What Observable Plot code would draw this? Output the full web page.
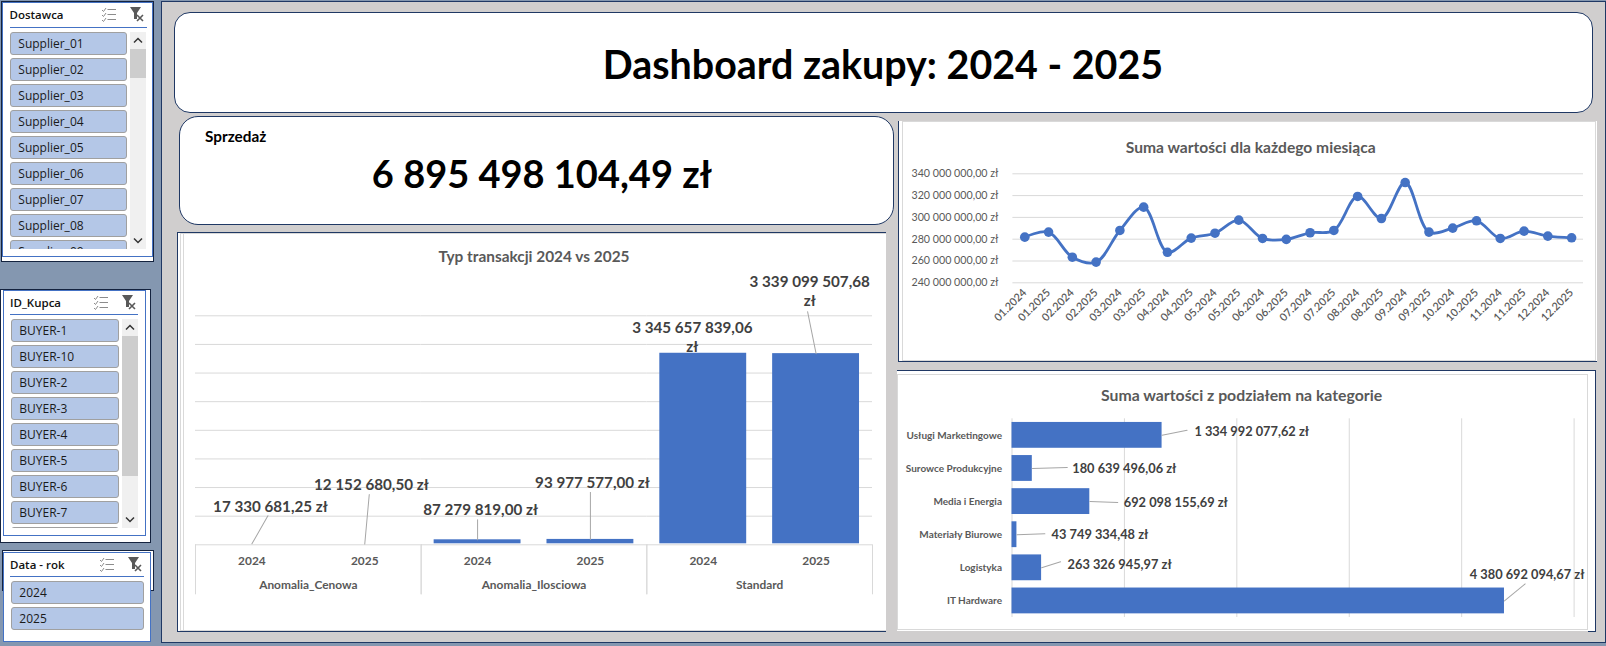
<!DOCTYPE html>
<html lang="pl">
<head>
<meta charset="utf-8">
<title>Dashboard zakupy: 2024 - 2025</title>
<script src="https://cdn.jsdelivr.net/npm/d3@7"></script>
<script src="https://cdn.jsdelivr.net/npm/@observablehq/plot@0.6"></script>
<style>
html,body{margin:0;padding:0;background:#8497B0;overflow:hidden;width:1606px;height:646px;}
#page{position:relative;width:1606px;height:646px;font-family:Lato,sans-serif;overflow:hidden;}
.abs{position:absolute;box-sizing:border-box;}
.panel{background:#D0CECE;border:1px solid #1F3864;}
.round{background:#fff;border:1px solid #1F3864;}
.title{position:absolute;text-align:center;font-weight:700;color:#595959;white-space:nowrap;transform:translate(-50%,-50%);}
.big{position:absolute;text-align:center;font-weight:700;color:#000;white-space:nowrap;transform:translate(-50%,-50%);}
.chart-svg{position:absolute;}
.chart-svg svg{display:block;overflow:visible;background:transparent;}
.slicer{font-family:"Open Sans",sans-serif;color:#111;}
.sl-head{position:absolute;font-weight:600;font-size:11.5px;line-height:16px;white-space:nowrap;color:#111;}
.sl-line{position:absolute;height:1px;background:#4472C4;}
.sl-btn{position:absolute;box-sizing:border-box;height:22.5px;background:#B4C7E7;border:1px solid #A0A0A0;border-radius:3px;font-size:12px;line-height:22px;padding-left:7px;color:#1a1a1a;white-space:nowrap;}
.sl-clip{position:absolute;overflow:hidden;}
.sl-bar{position:absolute;background:#F0F0F0;}
.sl-thumb{position:absolute;left:0;right:0;background:#CDCDCD;}
</style>
</head>
<body>
<div id="page"></div>
<script>
// ---------- data ----------
const dashboardTitle = "Dashboard zakupy: 2024 - 2025";
const kpiLabel = "Sprzedaż";
const kpiValue = "6 895 498 104,49 zł";

const suppliers = ["Supplier_01","Supplier_02","Supplier_03","Supplier_04","Supplier_05","Supplier_06","Supplier_07","Supplier_08","Supplier_09"];
const buyers = ["BUYER-1","BUYER-10","BUYER-2","BUYER-3","BUYER-4","BUYER-5","BUYER-6","BUYER-7",""];
const yearsFilter = ["2024","2025"];

const txTypes = ["Anomalia_Cenowa","Anomalia_Ilosciowa","Standard"];
const txYears = ["2024","2025"];
const txValues2024 = [17330681.25, 87279819.00, 3345657839.06];
const txValues2025 = [12152680.50, 93977577.00, 3339099507.68];

const months = ["01.2024","01.2025","02.2024","02.2025","03.2024","03.2025","04.2024","04.2025","05.2024","05.2025","06.2024","06.2025","07.2024","07.2025","08.2024","08.2025","09.2024","09.2025","10.2024","10.2025","11.2024","11.2025","12.2024","12.2025"];
const monthValues = [281.9,286.5,263.5,259,288,309.4,268,281,285.5,297.5,280.7,279.8,285.9,288,319.2,299,332,286.5,290.2,296.9,280.7,287.4,282.8,281.3].map(v => v * 1e6);

const categories = ["Usługi Marketingowe","Surowce Produkcyjne","Media i Energia","Materiały Biurowe","Logistyka","IT Hardware"];
const categoryValues = [1334992077.62,180639496.06,692098155.69,43749334.48,263326945.97,4380692094.67];

// Hand-placed data-label offsets from the end of each bar (px), as in the picture.
const txLabelOffsets = [[18.5,-38.3],[6.6,-60.9],[3,-31.6],[2,-58.2],[-10.9,-17.1],[-6.4,-63.5]];
const txLeaderEnds   = [[16,-28],[4.5,-49.5],[0,-20],[0,-47],null,[-8.5,-42]];
const catLabelOffsets = [[89.6,-3.5],[92,0.5],[86,1.5],[83,0.5],[78,-2.5],[22.6,-26]];
const catLeaderEnds   = [[25,-5],[35,-1],[28,1],[28,-1],[19,-6],[20.7,-17]];

// ---------- helpers ----------
const BLUE = "#4472C4", GRID = "#D9D9D9", INK = "#595959", DARK = "#404040", LEAD = "#A6A6A6";
const pl = d3.formatLocale({decimal:",", thousands:" ", grouping:[3], currency:[""," zł"]});
const money = v => pl.format(",.2f")(v) + " zł";
const page = document.getElementById("page");
function el(cls, style, text, parent = page) {
  const e = document.createElement("div");
  e.className = cls;
  Object.assign(e.style, style);
  if (text != null) e.textContent = text;
  parent.appendChild(e);
  return e;
}
const box = (l, t, w, h, extra) => ({left:l+"px", top:t+"px", width:w+"px", height:h+"px", ...extra});
const spike = {draw(ctx, l) { ctx.moveTo(0, 0); ctx.lineTo(0, -l); }};
const polar = ([dx, dy]) => ({len: Math.hypot(dx, dy), rot: Math.atan2(dx, -dy) * 180 / Math.PI});

// ---------- slicers ----------
function icons(parent, x1, x2, y) {
  const s = `<svg xmlns="http://www.w3.org/2000/svg" width="15" height="15" style="position:absolute;left:${x1}px;top:${y}px"><g stroke="#8c8c8c" fill="none"><path d="M1 3l1.5 1.5L5 1M1 8l1.5 1.5L5 6M1 13l1.5 1.5L5 11"/><path d="M6.5 2.5H15M6.5 7.5H15M6.5 12.5H15"/></g></svg>
  <svg xmlns="http://www.w3.org/2000/svg" width="16" height="16" style="position:absolute;left:${x2}px;top:${y-1}px"><path d="M1 1H12L8 7V13H5V7Z" fill="#595959"/><path d="M8 9l6 6M14 9l-6 6" stroke="#595959" stroke-width="1.6"/></svg>`;
  parent.insertAdjacentHTML("beforeend", s);
}
function chevron(parent, x, y, up) {
  parent.insertAdjacentHTML("beforeend", `<svg xmlns="http://www.w3.org/2000/svg" width="10" height="7" style="position:absolute;left:${x}px;top:${y}px"><path d="${up ? "M1 5.5L5 1.5L9 5.5" : "M1 1.5L5 5.5L9 1.5"}" stroke="#333" stroke-width="1.5" fill="none"/></svg>`);
}
function slicer(o) {
  if (o.black) el("abs", box(...o.black, {border:"1px solid #14233f", background:"#fff"}));
  el("abs slicer", box(...o.blue, {border:"1px solid #4472C4", background:"#fff"}));
  el("sl-head slicer", {left:o.headX+"px", top:(o.headY-8)+"px"}, o.name);
  el("sl-line", box(o.headX, o.lineY, o.lineW, 1));
  icons(page, o.iconX1, o.iconX2, o.headY - 8);
  const clip = el("sl-clip slicer", box(o.btnX, o.btnY, o.btnW, o.clipH));
  o.items.forEach((t, i) => el("sl-btn", {left:"0", top:(i*26)+"px", width:o.btnW+"px"}, t, clip));
  if (o.bar) {
    const bar = el("sl-bar", box(...o.bar));
    el("sl-thumb", {top:o.thumb[0]+"px", height:o.thumb[1]+"px"}, null, bar);
    chevron(bar, (o.bar[2]-10)/2, 5, true);
    chevron(bar, (o.bar[2]-10)/2, o.bar[3]-12, false);
  }
}
slicer({name:"Dostawca", items:suppliers, black:[1,1,152.5,261], blue:[1.5,2,151.5,254.5], headX:9.5, headY:15, lineY:27, lineW:137, iconX1:101, iconX2:129, btnX:10.3, btnY:32.3, btnW:116.5, clipH:216.4, bar:[130,32,16,216.7], thumb:[17,29]});
slicer({name:"ID_Kupca", items:buyers, black:[0,289,151,254], blue:[2.5,290,143.5,246], headX:10, headY:303, lineY:314, lineW:128, iconX1:93, iconX2:121, btnX:11.3, btnY:319.3, btnW:107.5, clipH:208.4, bar:[122,319,16,208.7], thumb:[17,140]});
slicer({name:"Data - rok", items:yearsFilter, black:[2,550,152,41], blue:[2.5,552,148.5,90], headX:10, headY:565, lineY:576, lineW:134, iconX1:99, iconX2:127, btnX:11.3, btnY:581.3, btnW:132.5, clipH:50});

// ---------- dashboard panel ----------
el("abs panel", box(161, 1, 1445, 641.5));
el("abs round", box(174, 12, 1418.5, 100.5, {borderRadius:"16px"}));
el("big", {left:"883px", top:"62.5px", fontSize:"39.4px"}, dashboardTitle);
el("abs round", box(179, 116, 715, 108.5, {borderRadius:"19px"}));
el("big", {left:"205px", top:"136px", fontSize:"15.3px", transform:"translate(0,-50%)"}, kpiLabel);
el("big", {left:"542px", top:"173px", fontSize:"38px"}, kpiValue);

function chartPanel(l, t, w, h, borders, inner) {
  el("abs", box(l, t, w, h, {background:"#fff", ...borders}));
  el("abs", box(l+inner[0], t+inner[1], w-inner[0]-inner[2], h-inner[1]-inner[3], {border:"1px solid #D9D9D9", background:"#fff", borderRight:inner[2]?"1px solid #D9D9D9":"none"}));
}
const NAVY = "1px solid #1F3864";
chartPanel(177, 232, 708.5, 399.5, {borderLeft:NAVY, borderTop:NAVY, borderBottom:NAVY}, [3,1,0,1]);
el("abs", box(180.5, 233, 3, 397, {borderRight:"1px solid #D9D9D9"}));
chartPanel(898, 121, 699, 240.5, {borderLeft:NAVY, borderBottom:NAVY}, [4,0,1,1]);
chartPanel(897, 370, 699, 261, {borderTop:NAVY, borderRight:NAVY}, [0,4,8,1]);
el("abs", box(1587.7, 630.5, 8.5, 1, {background:"#1F3864"}));

el("title", {left:"534px", top:"255.7px", fontSize:"15.4px"}, "Typ transakcji 2024 vs 2025");
el("title", {left:"1250.7px", top:"147px", fontSize:"15.6px"}, "Suma wartości dla każdego miesiąca");
el("title", {left:"1241.6px", top:"394px", fontSize:"15.8px"}, "Suma wartości z podziałem na kategorie");

function mount(plot, left, top) {
  const w = el("chart-svg", {left:left+"px", top:top+"px"});
  w.appendChild(plot);
}

// ---------- chart 1: transaction type, year vs year ----------
const txRows = txTypes.flatMap((t, i) => [
  {type:t, year:txYears[0], value:txValues2024[i]},
  {type:t, year:txYears[1], value:txValues2025[i]}
]).map((d, i) => ({...d, off:txLabelOffsets[i], lead:txLeaderEnds[i] && polar(txLeaderEnds[i])}));
const wrapTx = d => { const s = money(d.value); return d.value >= 1e9 ? s.replace(/ zł$/, "\nzł") : s; };

mount(Plot.plot({
  width:708, height:398, marginTop:82.3, marginBottom:86.7, marginLeft:18, marginRight:13,
  style:{background:"transparent", fontFamily:"Lato, sans-serif", overflow:"visible"},
  fx:{domain:txTypes, padding:0, round:false, axis:null, label:null},
  x:{domain:txYears, paddingInner:0.23, paddingOuter:0.115, round:false, axis:null, label:null},
  y:{domain:[0,4e9], axis:null, label:null},
  length:{type:"identity"},
  marks:[
    Plot.gridY(d3.range(0.5e9, 4.01e9, 0.5e9), {stroke:GRID, strokeOpacity:1}),
    Plot.barY(txRows, {fx:"type", x:"year", y:"value", fill:BLUE, insetBottom:1}),
    Plot.ruleY([0], {stroke:GRID}),
    Plot.frame({anchor:"left", stroke:GRID, insetTop:229, insetBottom:-49}),
    Plot.frame({anchor:"right", stroke:GRID, insetTop:229, insetBottom:-49}),
    Plot.vector(txRows.filter(d => d.lead), {fx:"type", x:"year", y:"value", length:d => d.lead.len, rotate:d => d.lead.rot, anchor:"start", shape:spike, stroke:LEAD, strokeWidth:1}),
    Plot.axisX({anchor:"bottom", tickSize:0, tickPadding:12, fontSize:11.9, fill:INK, fontWeight:700, label:null}),
    Plot.axisFx({anchor:"bottom", tickSize:0, tickPadding:36, fontSize:11.9, fill:INK, fontWeight:700, label:null}),
    ...txRows.map(d => Plot.text([d], {fx:"type", x:"year", y:"value", text:wrapTx, dx:d.off[0], dy:d.off[1], fontSize:15.2, fontWeight:700, fill:DARK, lineHeight:1.31}))
  ]
}), 177, 233);

// ---------- chart 2: monthly totals ----------
const monthRows = months.map((m, i) => ({month:m, value:monthValues[i]}));
mount(Plot.plot({
  width:699, height:239, marginTop:51.3, marginBottom:78.7, marginLeft:114.4, marginRight:14,
  style:{background:"transparent", fontFamily:"Lato, sans-serif", overflow:"visible"},
  x:{type:"point", domain:months, padding:0.5, round:false, axis:null, label:null},
  y:{domain:[240e6,340e6], axis:null, label:null},
  marks:[
    Plot.gridY(d3.range(240e6, 340.1e6, 20e6), {stroke:GRID, strokeOpacity:1}),
    Plot.axisY(d3.range(240e6, 340.1e6, 20e6), {tickSize:0, tickPadding:14.5, tickFormat:money, fontSize:10.7, fill:INK, label:null}),
    Plot.axisX({anchor:"bottom", tickSize:0, tickPadding:8, tickRotate:-45, fontSize:10.9, fill:INK, fontWeight:600, label:null}),
    Plot.line(monthRows, {x:"month", y:"value", stroke:BLUE, strokeWidth:2.8, curve:"catmull-rom"}),
    Plot.dot(monthRows, {x:"month", y:"value", fill:BLUE, r:4.8})
  ]
}), 898, 122);

// ---------- chart 3: value per category ----------
const catRows = categories.map((c, i) => ({category:c, value:categoryValues[i], off:catLabelOffsets[i], lead:polar(catLeaderEnds[i])}));
mount(Plot.plot({
  width:699, height:260, marginTop:48.3, marginBottom:13, marginLeft:114.5, marginRight:22.4,
  style:{background:"transparent", fontFamily:"Lato, sans-serif", overflow:"visible"},
  x:{domain:[0,5e9], axis:null, label:null},
  y:{domain:categories, paddingInner:0.22, paddingOuter:0.11, round:false, axis:null, label:null},
  length:{type:"identity"},
  marks:[
    Plot.gridX(d3.range(0, 5.01e9, 1e9), {stroke:GRID, strokeOpacity:1}),
    Plot.barX(catRows, {y:"category", x:"value", fill:BLUE}),
    Plot.axisY({tickSize:0, tickPadding:10, fontSize:10, fill:INK, fontWeight:700, label:null}),
    Plot.vector(catRows, {y:"category", x:"value", length:d => d.lead.len, rotate:d => d.lead.rot, anchor:"start", shape:spike, stroke:LEAD, strokeWidth:1}),
    ...catRows.map(d => Plot.text([d], {y:"category", x:"value", text:r => money(r.value), dx:d.off[0], dy:d.off[1], fontSize:12.8, fontWeight:700, fill:DARK}))
  ]
}), 897, 370);
</script>
</body>
</html>
